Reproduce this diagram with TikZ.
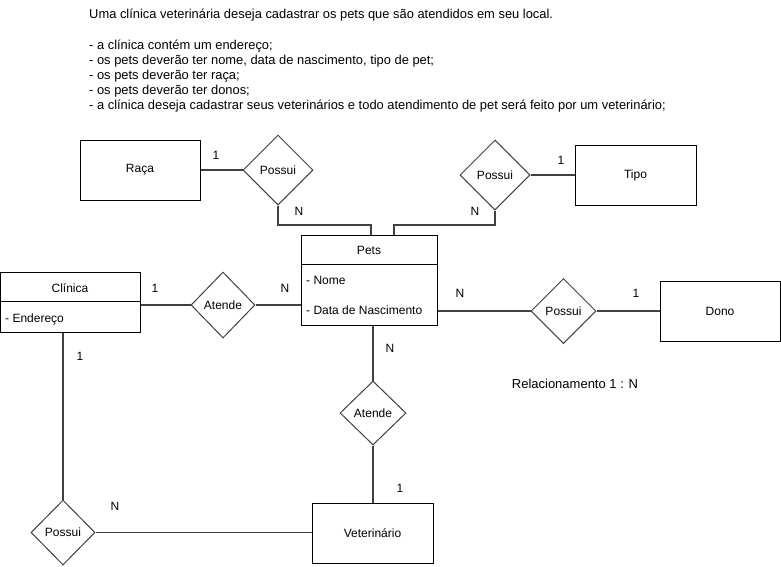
\documentclass[tikz,border=0pt]{standalone}
\usepackage{fontspec}
\setmainfont{Liberation Sans}
\usetikzlibrary{shapes.geometric,calc}
\begin{document}
\begin{tikzpicture}[x=1pt,y=-1pt,font=\fontsize{12}{14}\selectfont,
  ent/.style={draw=black,line width=1pt,rectangle,inner sep=0pt},
  rel/.style={draw=black!75,line width=1pt,diamond,inner sep=0pt,aspect=1},
  conn/.style={draw=black!75,line width=1.2pt},
  card/.style={inner sep=0pt},
  desc/.style={anchor=base west,inner sep=0pt,font=\fontsize{12.9}{15}\selectfont},
  attr/.style={anchor=west,inner sep=0pt}]
\useasboundingbox (0,0) rectangle (781,566);
% description
\node[desc] (d1) at (89,18.5) {Uma clínica veterinária deseja cadastrar os pets que são atendidos em seu local.};
\node[desc] (d2) at (89,49) {- a clínica contém um endereço;};
\node[desc] (d3) at (89,64) {- os pets deverão ter nome, data de nascimento, tipo de pet;};
\node[desc] (d4) at (89,79) {- os pets deverão ter raça;};
\node[desc] (d5) at (89,94) {- os pets deverão ter donos;};
\node[desc] (d6) at (89,109) {- a clínica deseja cadastrar seus veterinários e todo atendimento de pet será feito por um veterinário;};
% entities
\node[ent,minimum width=120pt,minimum height=60pt] (raca) at (140,170) {Raça};
\node[ent,minimum width=121pt,minimum height=60pt] (tipo) at (635.5,175) {Tipo};
\node[ent,minimum width=136pt,minimum height=90pt] (pets) at (369,280) {};
\draw[line width=1pt] ($(pets.north west)+(0,30)$) -- ($(pets.north east)+(0,30)$);
\node[card] (petsT) at (369,250) {Pets};
\node[attr] (nome) at (306,280) {- Nome};
\node[attr] (nasc) at (306,310) {- Data de Nascimento};
\node[ent,minimum width=139.5pt,minimum height=60pt] (clin) at (70.25,302) {};
\draw[line width=1pt] ($(clin.north west)+(0,30)$) -- ($(clin.north east)+(0,30)$);
\node[card] (clinT) at (70,288) {Clínica};
\node[attr] (end) at (5,319) {- Endereço};
\node[ent,minimum width=120pt,minimum height=60pt] (dono) at (720,311) {Dono};
\node[ent,minimum width=121pt,minimum height=60pt] (vet) at (372.5,533) {Veterinário};
% relationships
\node[rel,minimum width=70pt,minimum height=70pt] (p1) at (278,170) {Possui};
\node[rel,minimum width=70pt,minimum height=70pt] (p2) at (495,175) {Possui};
\node[rel,minimum width=64pt,minimum height=66pt] (a1) at (223,305) {Atende};
\node[rel,minimum width=65pt,minimum height=65pt] (p3) at (563.5,311) {Possui};
\node[rel,minimum width=66pt,minimum height=64pt] (a2) at (373,413) {Atende};
\node[rel,minimum width=64pt,minimum height=65pt] (p4) at (63,532.5) {Possui};
% connectors
\coordinate (c1) at (371,225);
\coordinate (c2) at (394,225);
\draw[conn] (raca.east) -- (p1.west);
\draw[conn] (p1.south) |- (c1) -- (c1 |- pets.north);
\draw[conn] (p2.south) |- (c2) -- (c2 |- pets.north);
\draw[conn] (p2.east) -- (tipo.west);
\draw[conn] (clin.east |- a1.west) -- (a1.west);
\draw[conn] (a1.east) -- (a1.east -| pets.west);
\draw[conn] (pets.east |- p3.west) -- (p3.west);
\draw[conn] (p3.east) -- (dono.west);
\draw[conn] (a2.north |- pets.south) -- (a2.north);
\draw[conn] (a2.south) -- (a2.south |- vet.north);
\draw[conn] (p4.north |- clin.south) -- (p4.north);
\draw[conn] (p4.east) -- (p4.east -| vet.west);
% cardinalities
\node[card] (l1) at (216,155) {1};
\node[card] (l2) at (299,211) {N};
\node[card] (l3) at (475,211) {N};
\node[card] (l4) at (561,160) {1};
\node[card] (l5) at (155,288) {1};
\node[card] (l6) at (285,288) {N};
\node[card] (l7) at (460,293) {N};
\node[card] (l8) at (636,293) {1};
\node[card] (l9) at (80,356) {1};
\node[card] (l10) at (390,348) {N};
\node[card] (l11) at (400,488) {1};
\node[card] (l12) at (115,506) {N};
\node[card,font=\fontsize{13}{15}\selectfont] (relN) at (575,384) {Relacionamento 1 : N};
\end{tikzpicture}
\end{document}
